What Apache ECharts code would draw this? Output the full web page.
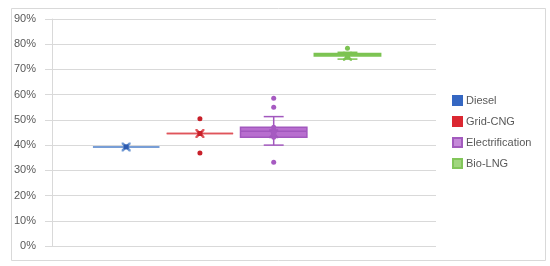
<!DOCTYPE html>
<html>
<head>
<meta charset="utf-8">
<script src="https://cdn.jsdelivr.net/npm/echarts@6/dist/echarts.min.js"></script>
<style>
html,body{margin:0;padding:0;background:#fff;}
#chart{width:550px;height:266px;}
</style>
</head>
<body>
<div id="chart"></div>
<script>
// ---- data ----
const categories = ['Diesel', 'Grid-CNG', 'Electrification', 'Bio-LNG'];
// [min, Q1, median, Q3, max] in %
const dieselBox = [39.3, 39.3, 39.3, 39.3, 39.3];
const gridCngBox = [44.6, 44.6, 44.6, 44.6, 44.6];
const electrificationBox = [40.0, 43.1, 45.5, 47.1, 51.3];
const bioLngBox = [74.1, 75.3, 75.8, 76.3, 76.8];
const means = [39.3, 44.6, 44.5, 75.2];
const dieselPoints = [];
const gridCngPoints = [50.5, 36.9];
const electrificationPoints = [58.6, 55.0, 33.2, 47.1, 46.0, 44.5, 43.1];
const bioLngPoints = [78.4];
const yTicks = [0, 10, 20, 30, 40, 50, 60, 70, 80, 90];

const boxes = [dieselBox, gridCngBox, electrificationBox, bioLngBox];
const points = [dieselPoints, gridCngPoints, electrificationPoints, bioLngPoints];

const fills = ['#3567C2', '#DB2731', '#B86ECF', '#8FCD67'];
const strokes = ['#6F98D3', '#E0555B', '#A258BE', '#7CC352'];
const markColors = ['#2D5BB0', '#C8202A', '#A65AC1', '#7CC352'];
const legendFills = ['#3567C2', '#DB2731', '#C58AD9', '#A0D67E'];
const legendBorders = ['#3567C2', '#DB2731', '#A35BBE', '#82C65A'];

function renderBox(params, api) {
  const x = api.value(0);
  const vMin = api.value(1), q1 = api.value(2), med = api.value(3), q3 = api.value(4), vMax = api.value(5);
  const w = api.size([0.9, 0])[0];
  const cw = api.size([0.27, 0])[0];
  const pMin = api.coord([x, vMin]), pQ1 = api.coord([x, q1]), pMed = api.coord([x, med]);
  const pQ3 = api.coord([x, q3]), pMax = api.coord([x, vMax]);
  const cx = pMed[0];
  const i = params.seriesIndex;
  const st = strokes[i];
  const children = [];
  if (vMax > q3) {
    children.push({type: 'line', shape: {x1: cx, y1: pQ3[1], x2: cx, y2: pMax[1]}, style: {stroke: st, lineWidth: 1.5}});
    children.push({type: 'line', shape: {x1: cx - cw / 2, y1: pMax[1], x2: cx + cw / 2, y2: pMax[1]}, style: {stroke: st, lineWidth: 1.5}});
  }
  if (vMin < q1) {
    children.push({type: 'line', shape: {x1: cx, y1: pQ1[1], x2: cx, y2: pMin[1]}, style: {stroke: st, lineWidth: 1.5}});
    children.push({type: 'line', shape: {x1: cx - cw / 2, y1: pMin[1], x2: cx + cw / 2, y2: pMin[1]}, style: {stroke: st, lineWidth: 1.5}});
  }
  children.push({type: 'rect', shape: {x: cx - w / 2, y: pQ3[1], width: w, height: pQ1[1] - pQ3[1]},
    style: {fill: fills[i], stroke: st, lineWidth: 1.5}});
  children.push({type: 'line', shape: {x1: cx - w / 2, y1: pMed[1], x2: cx + w / 2, y2: pMed[1]}, style: {stroke: st, lineWidth: 1.5}});
  return {type: 'group', children: children};
}

const series = [];
categories.forEach(function (name, i) {
  series.push({
    name: name,
    type: 'custom',
    renderItem: renderBox,
    itemStyle: {color: legendFills[i], borderColor: legendBorders[i], borderWidth: 1},
    encode: {x: 0, y: [1, 2, 3, 4, 5]},
    data: [[i + 1].concat(boxes[i])],
    z: 2
  });
});
categories.forEach(function (name, i) {
  series.push({
    name: name + ' points',
    type: 'scatter',
    symbol: 'circle',
    symbolSize: 5,
    itemStyle: {color: markColors[i], opacity: 1},
    data: points[i].map(function (v) { return [i + 1, v]; }),
    z: 3,
    silent: true
  });
});
const xPath = 'path://M0,0 L2,0 L5,3 L8,0 L10,0 L10,2 L7,5 L10,8 L10,10 L8,10 L5,7 L2,10 L0,10 L0,8 L3,5 L0,2 Z';
series.push({
  name: 'mean-x',
  type: 'scatter',
  symbol: xPath,
  symbolSize: 9,
  itemStyle: {color: function (p) { return strokes[p.dataIndex]; }, opacity: 1},
  data: means.map(function (v, i) { return [i + 1, v]; }),
  z: 4,
  silent: true
});
series.push({
  name: 'mean-c',
  type: 'scatter',
  symbol: 'rect',
  symbolSize: 5,
  itemStyle: {color: function (p) { return markColors[p.dataIndex]; }, opacity: 1},
  data: means.map(function (v, i) { return [i + 1, v]; }),
  z: 5,
  silent: true
});

const chart = echarts.init(document.getElementById('chart'), null, {renderer: 'canvas'});
chart.setOption({
  animation: false,
  backgroundColor: '#ffffff',
  textStyle: {fontFamily: 'Liberation Sans, Arial, sans-serif'},
  graphic: [{
    type: 'rect', left: 9, top: 6, z: -10,
    shape: {width: 534, height: 252},
    style: {fill: 'none', stroke: '#D9D9D9', lineWidth: 1}
  }],
  grid: {left: 45, right: 114, top: 19, bottom: 20},
  xAxis: {
    type: 'value', min: -0.1, max: 5.2,
    show: false
  },
  yAxis: {
    type: 'value', min: yTicks[0], max: yTicks[yTicks.length - 1], interval: 10,
    axisLine: {show: true, lineStyle: {color: '#D9D9D9'}},
    axisTick: {show: false},
    splitLine: {lineStyle: {color: '#D9D9D9', width: 1}},
    axisLabel: {formatter: '{value}%', color: '#595959', fontSize: 11, margin: 9,
      fontFamily: 'Liberation Sans, Arial, sans-serif'}
  },
  legend: {
    data: categories,
    orient: 'vertical',
    left: 447,
    top: 90,
    icon: 'rect',
    itemWidth: 9,
    itemHeight: 9,
    itemGap: 10,
    textStyle: {color: '#595959', fontSize: 11, fontFamily: 'Liberation Sans, Arial, sans-serif', padding: [0, 0, 0, -1]}
  },
  series: series
});
</script>
</body>
</html>
